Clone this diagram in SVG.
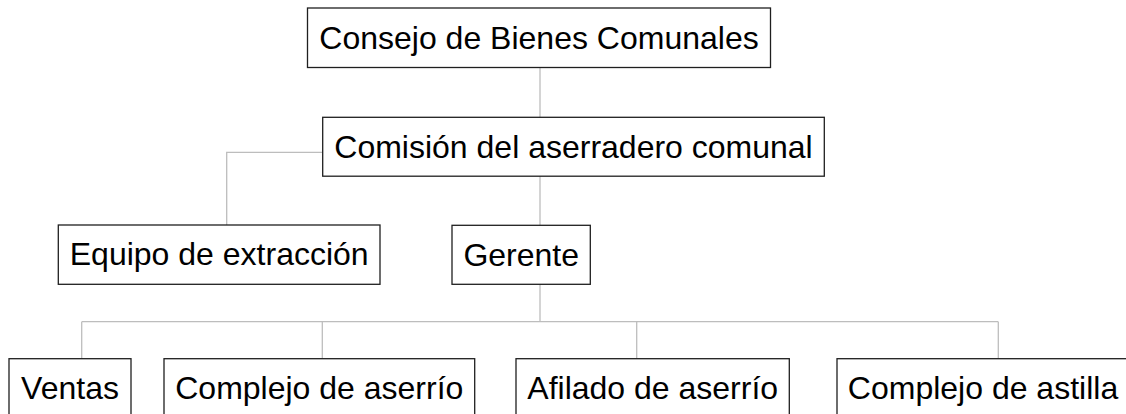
<svg xmlns="http://www.w3.org/2000/svg" width="1126" height="414" viewBox="0 0 1126 414">
<style>
.box{fill:#fff;stroke:#1f1f1f;stroke-width:1.3}
.lbl{font-family:"Liberation Sans",Arial,sans-serif;font-size:32px;fill:#000;text-anchor:middle}
.conn{fill:none;stroke:#bdbdbd;stroke-width:1.3}
</style>
<rect width="1126" height="414" fill="#fff"/>
<g id="connectors">
<path class="conn" d="M540,67.5 V117.3"/>
<path class="conn" d="M322.7,152.3 H226.7 V225"/>
<path class="conn" d="M540,176 V225.3"/>
<path class="conn" d="M540,284.3 V321.7"/>
<path class="conn" d="M81.7,321.7 H998.3"/>
<path class="conn" d="M81.7,321.7 V358.7"/>
<path class="conn" d="M322.3,321.7 V358.7"/>
<path class="conn" d="M636.7,321.7 V358.7"/>
<path class="conn" d="M998.3,321.7 V358.7"/>
</g>
<g id="consejo">
<rect class="box" x="307.5" y="8" width="463" height="59.5"/>
<text class="lbl" x="539" y="48.5">Consejo de Bienes Comunales</text>
</g>
<g id="comision">
<rect class="box" x="322.7" y="117.3" width="501.6" height="58.9"/>
<text class="lbl" x="573.5" y="157.5">Comisión del aserradero comunal</text>
</g>
<g id="equipo">
<rect class="box" x="58.3" y="225" width="321.7" height="59.3"/>
<text class="lbl" x="219.2" y="265.3">Equipo de extracción</text>
</g>
<g id="gerente">
<rect class="box" x="452" y="225.3" width="138.3" height="59"/>
<text class="lbl" x="521.2" y="265.5">Gerente</text>
</g>
<g id="ventas">
<rect class="box" x="9" y="358.7" width="122" height="70"/>
<text class="lbl" x="70" y="399">Ventas</text>
</g>
<g id="complejo-aserrio">
<rect class="box" x="164" y="358.7" width="310.7" height="70"/>
<text class="lbl" x="319.3" y="399">Complejo de aserrío</text>
</g>
<g id="afilado">
<rect class="box" x="516" y="358.7" width="273.3" height="70"/>
<text class="lbl" x="652.7" y="399">Afilado de aserrío</text>
</g>
<g id="complejo-astilla">
<rect class="box" x="837" y="358.7" width="294" height="70"/>
<text class="lbl" x="983" y="399">Complejo de astilla</text>
</g>
</svg>
